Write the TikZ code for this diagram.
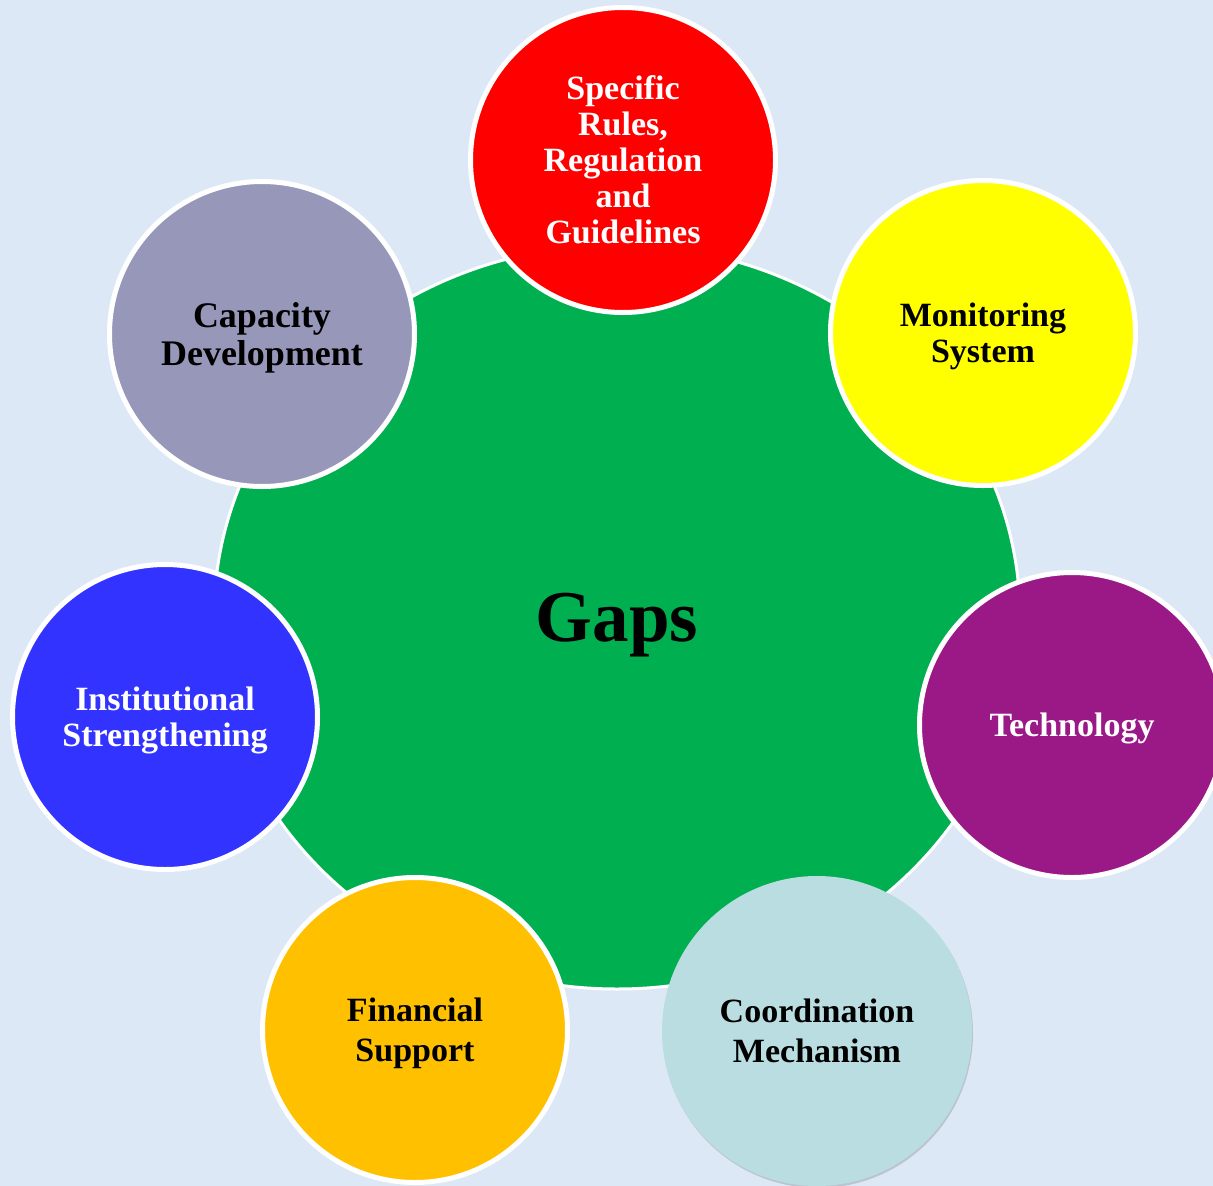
\documentclass[tikz,border=0pt]{standalone}
\usepackage{fontspec}
\setmainfont{Liberation Serif}
\usetikzlibrary{shapes.geometric,shadows}
\definecolor{bgblue}{HTML}{DCE8F6}
\definecolor{gapgreen}{HTML}{00AF50}
\definecolor{capgray}{HTML}{9797BA}
\definecolor{techpurple}{HTML}{9B1987}
\definecolor{coordblue}{HTML}{B9DDE0}
\definecolor{instblue}{HTML}{3333FF}
\definecolor{finorange}{HTML}{FFC000}
\definecolor{rulesred}{HTML}{FF0000}
\definecolor{monyellow}{HTML}{FFFF00}
\begin{document}
\begin{tikzpicture}[x=1pt,y=-1pt,
  softshadow/.style={drop shadow={shadow xshift=1pt,shadow yshift=-2pt,opacity=0.15,fill=black}},
  sat/.style={circle,draw=white,line width=5pt,minimum size=305pt,inner sep=0pt,align=center,
    text depth=0pt,font=\fontsize{34}{36}\selectfont\bfseries,softshadow},
  plainsat/.style={circle,minimum size=310pt,inner sep=0pt,align=center,
    text depth=0pt,font=\fontsize{34}{36}\selectfont\bfseries,softshadow}]
\fill[bgblue] (0,0) rectangle (1213,1186);
\useasboundingbox (0,0) rectangle (1213,1186);
\node[ellipse,draw=white,line width=3pt,fill=gapgreen,minimum width=806pt,minimum height=744pt,
  text depth=0pt,font=\fontsize{73}{80}\selectfont\bfseries] (gaps) at (617,617) {Gaps};
\node[sat,fill=rulesred,text=white] (rules) at (623,160) {Specific\\Rules,\\Regulation\\and\\Guidelines};
\node[sat,fill=monyellow,text=black] (monitor) at (983,333) {Monitoring\\System};
\node[sat,fill=techpurple,text=white] (tech) at (1072,725) {Technology};
\node[plainsat,fill=coordblue,text=black,font=\fontsize{34}{40}\selectfont\bfseries] (coord) at (817,1031) {Coordination\\Mechanism};
\node[sat,fill=finorange,text=black,font=\fontsize{34}{40}\selectfont\bfseries] (fin) at (415,1030) {Financial\\Support};
\node[sat,fill=instblue,text=white] (inst) at (165,717) {Institutional\\Strengthening};
\node[sat,fill=capgray,text=black,font=\fontsize{36}{38}\selectfont\bfseries] (cap) at (262,334) {Capacity\\Development};
\end{tikzpicture}
\end{document}
